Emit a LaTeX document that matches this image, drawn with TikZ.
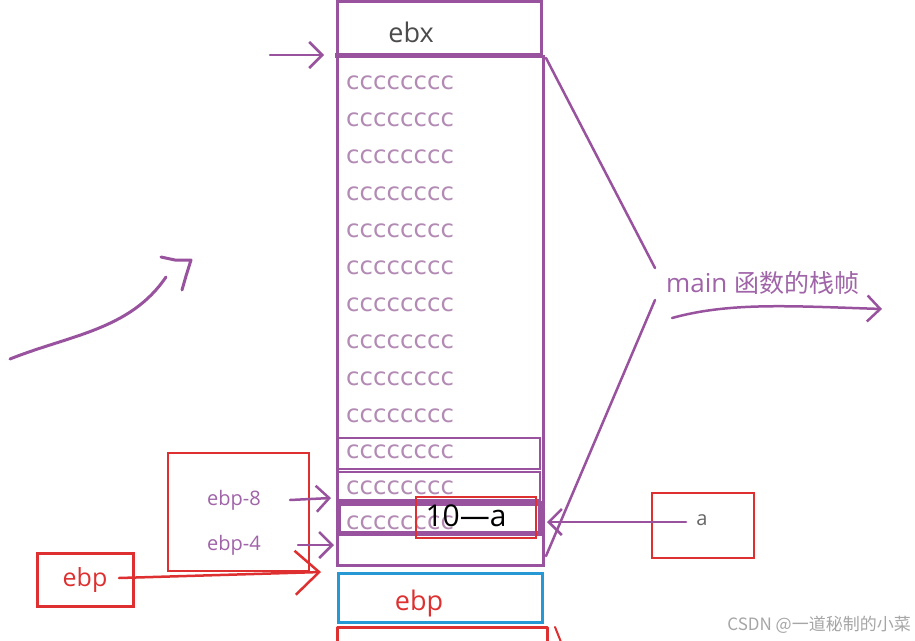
\documentclass[tikz,border=0pt]{standalone}
\usepackage{fontspec}
\setmainfont{Open Sans}
\newfontfamily\cjk{Noto Sans CJK SC}
\newfontfamily\cfont{DejaVu Sans}
\usetikzlibrary{arrows.meta}
\definecolor{pur}{RGB}{152,82,158}
\definecolor{ctext}{RGB}{178,138,180}
\definecolor{labc}{RGB}{160,100,168}
\definecolor{redc}{RGB}{222,48,48}
\definecolor{bluec}{RGB}{38,152,212}
\tikzset{
  cell/.style={draw=pur,line width=3pt},
  ctxt/.style={anchor=west,inner sep=0pt,text=ctext,font=\cfont\fontsize{24.5}{24.5}\selectfont},
  pen/.style={draw=pur,line width=2.5pt,line cap=round,line join=round},
  redpen/.style={draw=redc,line width=2.5pt,line cap=round,line join=round},
  thinred/.style={draw=redc,line width=1.3pt},
  barb/.style={-{Straight Barb[length=13pt,width=26pt]}},
}
\begin{document}
\begin{tikzpicture}[x=1pt,y=-1pt]
\useasboundingbox (0,0) rectangle (915,640);
\fill[white] (0,0) rectangle (915,640);
% ebx cell
\draw[cell] (337,1) rectangle (541,54);
\node[inner sep=0pt,text=black!70,font=\fontsize{27}{27}\selectfont] (ebx) at (411,32) {ebx};
% main frame
\draw[cell] (337,56) rectangle (543,565);
\draw[draw=pur,line width=5pt] (335,55) -- (543,55);
\foreach \y [count=\i] in {83,120,...,416}
  \node[ctxt] (c\i) at (346,\y) {cccccccc};
\draw[cell,line width=2.5pt] (337,438) rectangle (540,469);
\draw[cell,line width=2.5pt] (337,472) rectangle (540,500);
\draw[cell,line width=5pt] (338,503) rectangle (540,533);
\node[ctxt] (c11) at (346,452) {cccccccc};
\node[ctxt] (c12) at (346,488) {cccccccc};
\node[ctxt] (c13) at (346,523) {cccccccc};
% blue ebp cell
\draw[draw=bluec,line width=3pt] (338,573) rectangle (542,622);
\node[inner sep=0pt,text=redc,font=\fontsize{27}{27}\selectfont] (ebpcell) at (419,603) {ebp};
% bottom red cell
\draw[redpen,line width=3pt,line cap=butt] (337,642) -- (337,627) -- (547,627) -- (547,642);
\draw[redpen,line width=2pt] (555,627) -- (561,642);
% top arrow
\coordinate (ta) at (270,55);
\coordinate (tb) at (324,55);
\draw[pen,barb] (ta) -- (tb);
% brace lines
\coordinate (b1) at (546,58);
\coordinate (b2) at (655,268);
\coordinate (b3) at (655,300);
\coordinate (b4) at (546,556);
\draw[pen] (b1) -- (b2);
\draw[pen] (b3) -- (b4);
\node[inner sep=0pt,anchor=west,text=labc,font=\fontsize{26}{26}\selectfont] (main) at (666,283) {main {\cjk\fontsize{25}{25}\selectfont 函数的栈帧}};
\coordinate (m1) at (672,318);
\coordinate (m2) at (882,309);
\draw[pen,barb] (m1) .. controls (730,302) and (790,306) .. (m2);
% left hand-drawn arrow
\coordinate (h1) at (10,359);
\coordinate (h2) at (166,277);
\draw[pen,line width=3pt] (h1) .. controls (70,335) and (130,330) .. (h2);
\draw[pen,line width=3pt] (161,257) -- (175,260) -- (191,260) -- (186,276) -- (182,290);
% ebp register
\node[draw=redc,line width=3pt,minimum width=96pt,minimum height=53pt,inner sep=0pt,text=redc,font=\fontsize{25}{25}\selectfont] (ebpreg) at (85,580) {\raisebox{4pt}{ebp}};
\coordinate (rtip) at (321,572);
\draw[redpen,-{Straight Barb[length=24pt,width=44pt]}] (119,578) -- (rtip);
% ebp-8 / ebp-4
\draw[thinred] (168,453) rectangle (309,571);
\node[inner sep=0pt,text=labc,font=\fontsize{20}{20}\selectfont] (e8) at (234,500) {ebp-8};
\node[inner sep=0pt,text=labc,font=\fontsize{20}{20}\selectfont] (e4) at (234,545) {ebp-4};
\coordinate (e8t) at (331,498);
\coordinate (e4t) at (334,545);
\draw[pen,barb] (290,500) -- (e8t);
\draw[pen,barb] (298,545) -- (e4t);
% 10-a
\draw[thinred] (416,497) rectangle (536,538);
\node[inner sep=0pt,text=black,font=\fontsize{30}{30}\selectfont] (ten) at (466,516) {10—a};
% a label
\draw[thinred] (652,493) rectangle (754,558);
\node[inner sep=0pt,text=black!60,font=\fontsize{20}{20}\selectfont] (a) at (702,520) {a};
\coordinate (at) at (547,522);
\draw[pen,barb] (686,522) -- (at);
% watermark
\node[inner sep=0pt,anchor=east,text=black!35,font=\cjk\fontsize{17}{17}\selectfont] (wm) at (911,625) {CSDN @一道秘制的小菜};
\end{tikzpicture}
\end{document}
